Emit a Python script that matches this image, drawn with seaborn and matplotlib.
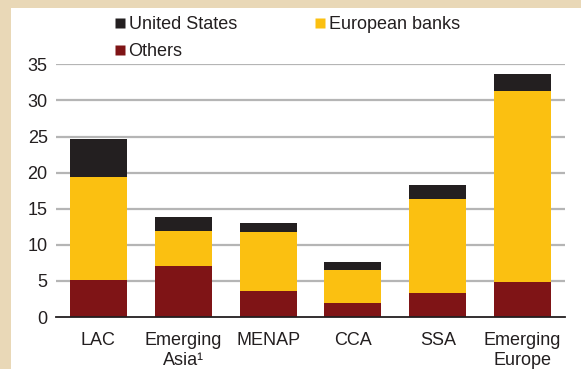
import matplotlib
matplotlib.use("Agg")
import matplotlib.pyplot as plt
from matplotlib.patches import Rectangle
from matplotlib.lines import Line2D
import numpy as np
import pandas as pd
import seaborn as sns

regions = ["LAC", "Emerging\nAsia\u00b9", "MENAP", "CCA", "SSA", "Emerging\nEurope"]
others = [5.1, 7.0, 3.6, 2.0, 3.3, 4.8]
european_banks = [14.3, 4.9, 8.2, 4.5, 13.05, 26.5]
united_states = [5.3, 1.95, 1.25, 1.1, 1.95, 2.4]

series_names = ["United States", "European banks", "Others"]
colors = {"United States": "#231F20", "European banks": "#FBC011", "Others": "#7F1416"}

sns.set_theme(style="white")
plt.rcParams["font.family"] = ["Liberation Sans", "DejaVu Sans"]

df = pd.DataFrame({
    "region": regions,
    "Others": others,
    "European banks": european_banks,
    "United States": united_states,
})
df["level2"] = df["Others"] + df["European banks"]
df["level3"] = df["level2"] + df["United States"]

W, H = 581, 369
fig = plt.figure(figsize=(W / 100, H / 100), dpi=100)
fig.patch.set_facecolor("white")
# beige frame: a band across the top and a strip down the left side
frame = "#E9D8B7"
fig.add_artist(Rectangle((0, (H - 8) / H), 1, 8 / H + 0.01, transform=fig.transFigure,
                         facecolor=frame, edgecolor="none", zorder=0))
fig.add_artist(Rectangle((0, 0), 11 / W, 1, transform=fig.transFigure,
                         facecolor=frame, edgecolor="none", zorder=0))

ax = fig.add_axes([56 / W, 52 / H, (565 - 56) / W, (317 - 64.3) / H])
ax.set_facecolor("none")

bar_w = 0.67
for col, name in [("level3", "United States"), ("level2", "European banks"), ("Others", "Others")]:
    sns.barplot(data=df, x="region", y=col, color=colors[name], width=bar_w,
                saturation=1, edgecolor="none", linewidth=0, ax=ax, zorder=3)

for v in range(5, 40, 5):
    ax.axhline(v, color="#B5B5B5", lw=1.6, zorder=1)

ax.set_ylim(0, 35)
ax.set_xlim(-0.5, len(regions) - 0.5)
ax.set_yticks(range(0, 40, 5))
ax.set_xlabel("")
ax.set_ylabel("")
for s in ["top", "right", "left"]:
    ax.spines[s].set_visible(False)
ax.spines["bottom"].set_color("#231F20")
ax.spines["bottom"].set_linewidth(1.3)
ax.spines["bottom"].set_zorder(4)

ax.tick_params(axis="y", length=0, pad=6, labelsize=13, labelcolor="#231F20")
ax.tick_params(axis="x", which="major", length=0, pad=11, labelsize=13, labelcolor="#231F20")
ax.set_xticks(np.arange(-0.5, len(regions), 1.0), minor=True)
ax.tick_params(axis="x", which="minor", direction="in", length=5, width=1.2, color="#231F20")
for lbl in ax.get_xticklabels():
    lbl.set_linespacing(1.2)

handles = [Line2D([], [], marker="s", linestyle="none", markersize=6.8,
                  markerfacecolor=colors[n], markeredgecolor="none") for n in series_names]
order = [0, 2, 1]
fig.legend([handles[i] for i in order], [series_names[i] for i in order],
           loc="upper left", bbox_to_anchor=(110.5 / W, 1 - 16 / H), ncol=2, frameon=False,
           fontsize=13, handletextpad=0.0, handlelength=1.0, columnspacing=4.1,
           labelspacing=0.55, labelcolor="#231F20", borderpad=0, borderaxespad=0)

fig.savefig("out.png", dpi=100, facecolor=fig.get_facecolor())
